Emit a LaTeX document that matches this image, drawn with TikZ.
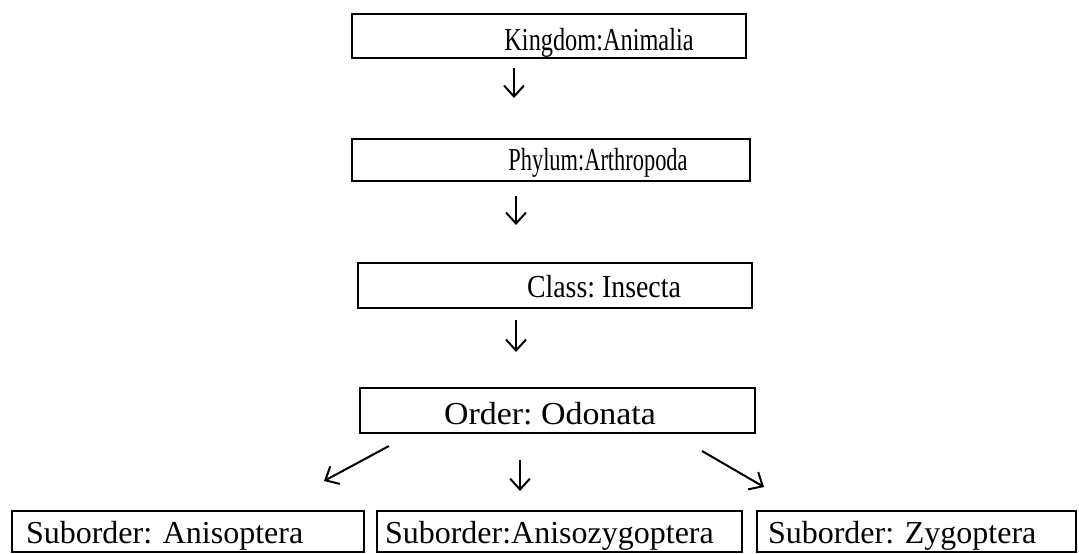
\documentclass[tikz,border=0pt]{standalone}
\usepackage{fontspec}
\setmainfont{Liberation Serif}
\frenchspacing
\usetikzlibrary{positioning}
\usetikzlibrary{arrows.meta}
\tikzset{
    taxbox/.style={draw, line width=2.5pt, inner sep=0pt},
    subbox/.style={draw, line width=2.5pt, inner ysep=0pt, minimum height=41pt, text height=25pt, text depth=0pt, align=left},
    taxtxt/.style={inner sep=0pt, anchor=base, transform shape},
    arr/.style={line width=2pt, -{Straight Barb[length=11pt, width=20pt, line width=2pt]}}
}

\begin{document}
\begin{tikzpicture}[x=1pt, y=1pt, font=\fontsize{32}{36}\selectfont]
                \useasboundingbox (0,0) rectangle (1079,554);

                % Taxonomy boxes
                \node[taxbox, minimum width=394pt, minimum height=44pt] (kingdom) at (549,518) {};
                \node[taxtxt, xscale=0.76] (kingdomtxt) at (599,503) {Kingdom:Animalia};
                \node[taxbox, minimum width=398pt, minimum height=42pt] (phylum) at (551,394) {};
                \node[taxtxt, xscale=0.70] (phylumtxt) at (598,383) {Phylum:Arthropoda};
                \node[taxbox, minimum width=394pt, minimum height=45pt] (class) at (555,268.5) {};
                \node[taxtxt, xscale=0.87] (classtxt) at (604,256) {Class: Insecta};
                \node[taxbox, minimum width=395pt, minimum height=45pt] (order) at (557.5,143.5) {};
                \node[taxtxt, xscale=1.06] (ordertxt) at (550,129) {Order: Odonata};

                % Suborders
                \node[subbox, inner xsep=14pt, text width=324pt] (aniso) at (188,22.5) {Suborder: Anisoptera};
                \node[subbox, inner xsep=8pt, text width=349pt] (anisozyg) at (559.5,22.5) {Suborder:Anisozygoptera};
                \node[subbox, inner xsep=11pt, text width=297pt] (zyg) at (916.5,22.5) {Suborder: Zygoptera};

                % Arrow ends
                \coordinate (k1) at (514,486);
                \coordinate (k2) at (514,456);
                \coordinate (p1) at (516,358);
                \coordinate (p2) at (516,329);
                \coordinate (c1) at (516,234);
                \coordinate (c2) at (516,202);
                \coordinate (o1) at (520,94);
                \coordinate (o2) at (520,63);
                \coordinate (l1) at (389,108);
                \coordinate (l2) at (324,73);
                \coordinate (r1) at (702,103);
                \coordinate (r2) at (764,67);

                % Arrows
                \draw[arr] (k1) -- (k2);
                \draw[arr] (p1) -- (p2);
                \draw[arr] (c1) -- (c2);
                \draw[arr] (o1) -- (o2);
                \draw[arr] (l1) -- (l2);
                \draw[arr] (r1) -- (r2);
            \end{tikzpicture}
\end{document}
